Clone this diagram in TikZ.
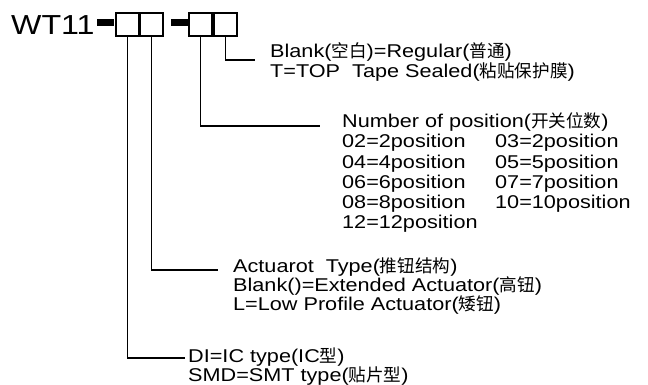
\documentclass[tikz,border=0pt]{standalone}
\usepackage{fontspec}
\setmainfont{Liberation Sans}[FakeStretch=1.17]
\newfontfamily\cjk[Scale=0.95]{Noto Sans CJK SC}
\newcommand\hanzi[1]{{\cjk #1}}
\begin{document}
\begin{tikzpicture}[x=1pt,y=-1pt,
	txt/.style={anchor=base west,inner sep=0pt,font=\fontsize{18.5}{20}\selectfont},
	feld/.style={draw,line width=1.4pt,minimum width=23pt,minimum height=23pt,inner sep=0pt},
	bar/.style={fill=black,inner sep=0pt,minimum width=17pt,minimum height=7pt},
	leg/.style={line width=1.3pt}]
		\useasboundingbox (0,0) rectangle (648,385);
		
		% Typenschluessel
		\node[anchor=base west,inner sep=0pt,font=\fontsize{27.5}{30}\selectfont] (wt) at (11,35) {WT11};
		\node[bar] (d1) at (105,23) {};
		\node[feld] (b1) at (127.5,24.5) {};
		\node[feld] (b2) at (151.5,24.5) {};
		\node[bar] (d2) at (179,23) {};
		\node[feld] (b3) at (200.5,24.5) {};
		\node[feld] (b4) at (225.5,24.5) {};
		
		% Enden der Linien
		\coordinate (e4) at (255,60);
		\coordinate (e3) at (320,126);
		\coordinate (e2) at (218,270);
		\coordinate (e1) at (185,358);
		\draw[leg] (b4.south) |- (e4);
		\draw[leg] (b3.south) |- (e3);
		\draw[leg] (b2.south) |- (e2);
		\draw[leg] (b1.south) |- (e1);
		
		% Abdeckung
		\node[txt] (t4a) at (270,58) {Blank(\hanzi{空白})=Regular(\hanzi{普通})};
		\node[txt] (t4b) at (270,78) {T=TOP\ \ Tape Sealed(\hanzi{粘贴保护膜})};
		
		% Positionen
		\node[txt] (t3) at (342,128) {Number of position(\hanzi{开关位数})};
		\foreach \a/\b [count=\i] in {02=2position/03=2position,04=4position/05=5position,06=6position/07=7position,08=8position/10=10position}
		{
			\node[txt] (p\i l) at (342,128+20*\i) {\a};
			\node[txt] (p\i r) at (495,128+20*\i) {\b};
		}
		\node[txt] (p5l) at (342,228) {12=12position};
		
		% Betaetiger
		\node[txt] (t2a) at (233,272) {Actuarot\ \ Type(\hanzi{推钮结构})};
		\node[txt] (t2b) at (233,291) {Blank()=Extended Actuator(\hanzi{高钮})};
		\node[txt] (t2c) at (233,310) {L=Low Profile Actuator(\hanzi{矮钮})};
		
		% Bauform
		\node[txt] (t1a) at (188,362) {DI=IC type(IC\hanzi{型})};
		\node[txt] (t1b) at (188,381) {SMD=SMT type(\hanzi{贴片型})};
	\end{tikzpicture}
\end{document}
